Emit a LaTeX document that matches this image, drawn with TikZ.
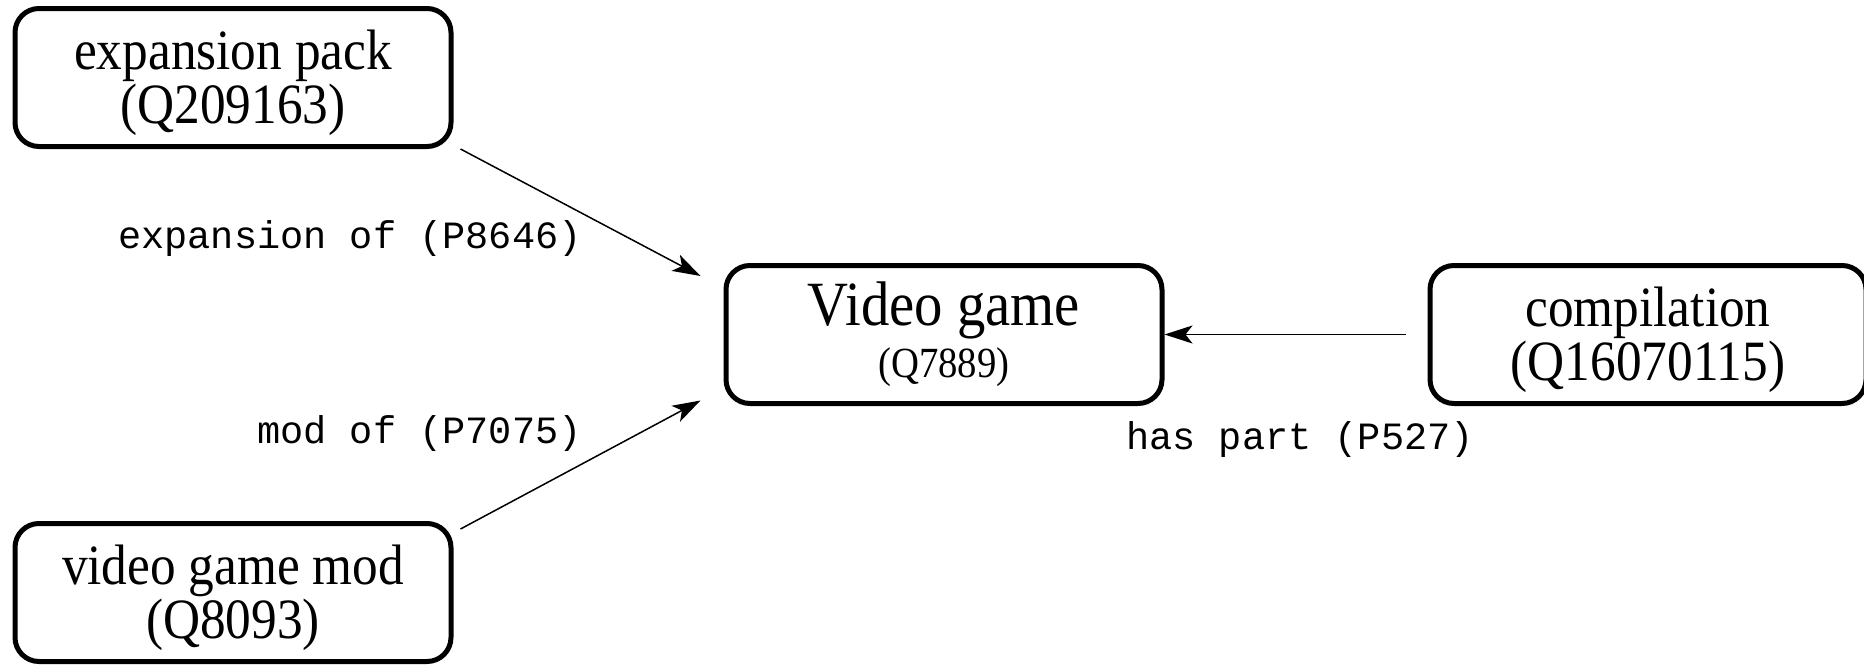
\documentclass[tikz,border=0pt]{standalone}
\usepackage{fontspec}
\setmainfont[FakeStretch=0.9]{Liberation Serif}
\newfontfamily\codefont{Liberation Mono}
\usetikzlibrary{arrows.meta}
% strut that lowers the two-line entity captions a little inside their boxes
\newcommand\capstrut{\rule{0pt}{25.5pt}}
\begin{document}
\begin{tikzpicture}[x=0.5pt,y=-0.5pt,
  entity/.style={draw, line width=2.5pt, rounded corners=12pt,
    minimum width=218pt, minimum height=69pt, inner sep=0pt,
    align=center, font=\fontsize{28.5}{27}\selectfont},
  rel/.style={line width=0.75pt,
    -{Stealth[length=14pt,width=9pt,inset=3.5pt]}},
  prop/.style={font=\codefont\fontsize{19.3}{20}\selectfont, inner sep=0pt}]
\useasboundingbox (0,0) rectangle (1864,665);

% entities
\node[entity] (pack) at (233,77.5) {\capstrut expansion pack\\(Q209163)};
\node[entity] (game) at (944,334.5)
  {{\fontsize{31.5}{31.5}\selectfont Video game}\\[-1pt]{\fontsize{21.5}{22}\selectfont (Q7889)}};
\node[entity] (comp) at (1648,334.5) {\capstrut compilation\\(Q16070115)};
\node[entity] (mod) at (233,592.5) {\capstrut video game mod\\(Q8093)};

% properties
\draw[rel] ([xshift=3.5pt]pack.south east) -- ([xshift=-11.5pt,yshift=29.25pt]game.west);
\draw[rel] ([xshift=3.5pt,yshift=-4pt]mod.north east) -- ([xshift=-11.5pt,yshift=-33pt]game.west);
\draw[rel] ([xshift=-11pt]comp.west) -- (game.east);

\node[prop, anchor=east] (l1) at (582,238.5) {expansion of (P8646)};
\node[prop, anchor=east] (l2) at (582,433.5) {mod of (P7075)};
\node[prop] (l3) at (1300,440) {has part (P527)};
\end{tikzpicture}
\end{document}
